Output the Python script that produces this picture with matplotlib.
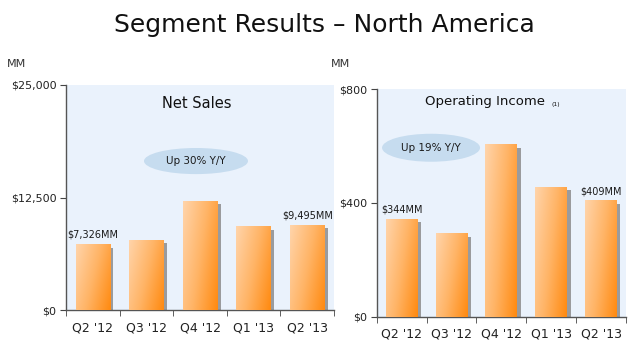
import numpy as np
import matplotlib
matplotlib.use("Agg")
import matplotlib.pyplot as plt
from matplotlib.patches import Ellipse
import matplotlib.patheffects as pe
from matplotlib.colors import LinearSegmentedColormap

plt.rcParams['font.family'] = ['DejaVu Sans']

quarters = ["Q2 '12", "Q3 '12", "Q4 '12", "Q1 '13", "Q2 '13"]
net_sales = [7326, 7819, 12140, 9300, 9495]
op_income = [344, 294, 606, 457, 409]
sales_ticks = [0, 12500, 25000]
sales_tick_labels = ["$0", "$12,500", "$25,000"]
inc_ticks = [0, 400, 800]
inc_tick_labels = ["$0", "$400", "$800"]

W, H = 644, 360
fig = plt.figure(figsize=(W / 100, H / 100), dpi=100)
fig.patch.set_facecolor('white')

cmap = LinearSegmentedColormap.from_list('orng', ['#FFD4AA', '#FFB466', '#FF8A10'])
grad = np.add.outer(np.linspace(0, 0.35, 50), np.linspace(0, 0.75, 50))  # rows: top->bottom


def draw_panel(rect, values, ticks, tick_labels, title, ell, ell_text, labels_idx, label_texts, sup=None):
    ax = fig.add_axes(rect)
    ax.set_facecolor('#EAF2FC')
    x = np.arange(len(values))
    bw = 0.64
    bars = ax.bar(x, values, width=bw, color='#FFA54F', zorder=2,
                  path_effects=[pe.SimplePatchShadow(offset=(2.5, -2.5), shadow_rgbFace='#8C8C8C', alpha=0.85),
                                pe.Normal()])
    for b, v, xi in zip(bars, values, x):
        im = ax.imshow(grad, cmap=cmap, vmin=0, vmax=1.1, aspect='auto',
                       extent=(xi - bw / 2, xi + bw / 2, 0, v), zorder=3, interpolation='bilinear')
        im.set_clip_path(b)
    ax.set_xlim(-0.5, len(values) - 0.5)
    ax.set_ylim(ticks[0], ticks[-1])
    ax.set_yticks(ticks)
    ax.set_yticklabels(tick_labels, fontsize=8, color='#222222')
    ax.set_xticks(x)
    ax.set_xticklabels(quarters, fontsize=9, color='#222222')
    ax.set_xticks(np.arange(len(values) + 1) - 0.5, minor=True)
    ax.tick_params(axis='x', which='major', length=0, pad=8)
    ax.tick_params(axis='x', which='minor', length=4, direction='out', color='#444444')
    ax.tick_params(axis='y', length=4, direction='out', color='#444444', pad=3)
    for s in ['top', 'right']:
        ax.spines[s].set_visible(False)
    for s in ['left', 'bottom']:
        ax.spines[s].set_color('#555555')
        ax.spines[s].set_linewidth(1.0)
    ax.text(title[1], title[2], title[0], transform=ax.transAxes, ha='center', va='center',
            fontsize=title[3], color='#111111')
    if sup is not None:
        ax.text(sup[1], sup[2], sup[0], transform=ax.transAxes, ha='left', va='center',
                fontsize=4.5, color='#111111')
    e = Ellipse((ell[0], ell[1]), ell[2], ell[3], transform=ax.transAxes,
                facecolor='#C6DCEF', edgecolor='none', zorder=1)
    ax.add_patch(e)
    ax.text(ell[0], ell[1], ell_text, transform=ax.transAxes, ha='center', va='center',
            fontsize=7.5, color='#1A1A1A', zorder=4)
    for i, t in zip(labels_idx, label_texts):
        ax.annotate(t, (x[i], values[i]), xytext=(0, 3), textcoords='offset points',
                    ha='center', va='bottom', fontsize=7, color='#1A1A1A', zorder=5)
    return ax


draw_panel([66 / W, 50 / H, 268 / W, 225 / H], net_sales, sales_ticks, sales_tick_labels,
           ("Net Sales", 0.489, 0.92, 10.5), (0.485, 0.662, 0.388, 0.116), "Up 30% Y/Y",
           [0, 4], ["$7,326MM", "$9,495MM"])
draw_panel([376.7 / W, 43.3 / H, 249.3 / W, 227.4 / H], op_income, inc_ticks, inc_tick_labels,
           ("Operating Income", 0.434, 0.945, 9.5), (0.218, 0.743, 0.393, 0.123), "Up 19% Y/Y",
           [0, 4], ["$344MM", "$409MM"], sup=("(1)", 0.70, 0.935))

fig.text(16.5 / W, 1 - 64 / H, "MM", ha='center', va='center', fontsize=8, color='#333333')
fig.text(341 / W, 1 - 64 / H, "MM", ha='center', va='center', fontsize=8, color='#333333')
fig.text(324 / W, 1 - 25 / H, "Segment Results \u2013 North America", ha='center', va='center',
         fontsize=18, color='#111111')

fig.savefig('out.png', dpi=100, facecolor='white')
